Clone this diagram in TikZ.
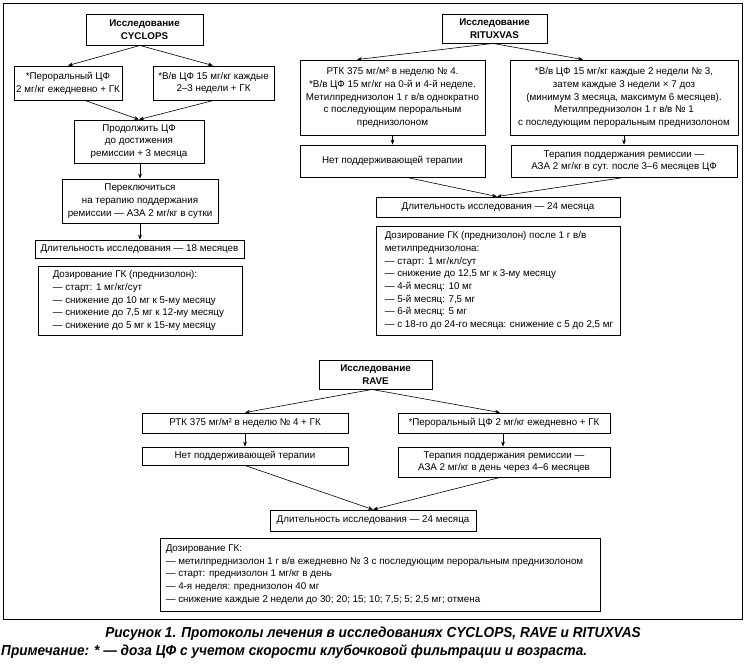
\documentclass[tikz,border=0pt]{standalone}
\usepackage{fontspec}
\setmainfont{Liberation Sans}
\newfontfamily\capfont[FakeStretch=0.94]{Liberation Sans}
\usetikzlibrary{arrows.meta,calc}
\tikzset{
  txt/.style={font=\fontsize{9.8}{12.7}\selectfont},
  box/.style={txt, draw, line width=0.9pt, inner sep=0pt, align=center},
  plain/.style={txt, inner sep=0pt, align=left},
  conn/.style={-{Stealth[length=5pt,width=3.8pt]}, line width=0.6pt},
  frame/.style={draw, line width=0.9pt, inner sep=0pt},
  captxt/.style={font=\capfont\bfseries\itshape\fontsize{14.5}{16}\selectfont, inner sep=0pt}
}
\begin{document}
\begin{tikzpicture}[x=1pt,y=-1pt]
\useasboundingbox (0,0) rectangle (746,664);
\node[frame, minimum width=739pt, minimum height=616pt] (frame) at (372.5,311) {};

% CYCLOPS
\node[box, minimum width=117pt, minimum height=31pt] (cT) at (144.5,29.5) {\bfseries Исследование\\\bfseries CYCLOPS};
\node[box, minimum width=108pt, minimum height=34pt] (cL) at (68,83) {*Пероральный ЦФ\\2 мг/кг ежедневно + ГК};
\node[box, minimum width=121pt, minimum height=34pt] (cR) at (213.5,83) {*В/в ЦФ 15 мг/кг каждые\\2–3 недели + ГК};
\node[box, minimum width=130pt, minimum height=43pt] (cC) at (139,141.5) {Продолжить ЦФ\\до достижения\\ремиссии + 3 месяца};
\node[box, minimum width=156pt, minimum height=44pt] (cS) at (140,201) {Переключиться\\на терапию поддержания\\ремиссии — АЗА 2 мг/кг в сутки};
\node[box, minimum width=209pt, minimum height=18pt] (cD) at (139.5,249) {Длительность исследования — 18 месяцев};
\node[box, minimum width=204pt, minimum height=69pt] (cG) at (140,300.5) {};
\node[plain, anchor=west] (cGt) at ($(cG.west)+(15,0)$) {Дозирование ГК (преднизолон):\\— старт: 1 мг/кг/сут\\— снижение до 10 мг к 5-му месяцу\\— снижение до 7,5 мг к 12-му месяцу\\— снижение до 5 мг к 15-му месяцу};

\draw[conn] ([xshift=-4.5pt]cT.south) -- (cL.north);
\draw[conn] ([xshift=-4.5pt]cT.south) -- ([xshift=-0.5pt]cR.north);
\draw[conn] ([xshift=17pt]cL.south) -- (cC.north);
\draw[conn] (cR.south) -- (cC.north);
\draw[conn] ([xshift=1pt]cC.south) -- (cS.north);
\draw[conn] (cS.south) -- ([xshift=0.5pt]cD.north);

% RITUXVAS
\node[box, minimum width=105pt, minimum height=29pt] (rT) at (494.5,28.5) {\bfseries Исследование\\\bfseries RITUXVAS};
\node[box, minimum width=185pt, minimum height=75pt] (rL) at (392.5,97.5) {РТК 375 мг/м² в неделю № 4.\\*В/в ЦФ 15 мг/кг на 0-й и 4-й неделе.\\Метилпреднизолон 1 г в/в однократно\\с последующим пероральным\\преднизолоном};
\node[box, minimum width=228pt, minimum height=75pt] (rR) at (624,97.5) {*В/в ЦФ 15 мг/кг каждые 2 недели № 3,\\затем каждые 3 недели × 7 доз\\(минимум 3 месяца, максимум 6 месяцев).\\Метилпреднизолон 1 г в/в № 1\\с последующим пероральным преднизолоном};
\node[box, minimum width=185pt, minimum height=32pt] (rL2) at (392.5,161) {Нет поддерживающей терапии};
\node[box, minimum width=226pt, minimum height=32pt] (rR2) at (624,161) {Терапия поддержания ремиссии —\\АЗА 2 мг/кг в сут. после 3–6 месяцев ЦФ};
\node[box, minimum width=244pt, minimum height=20pt] (rD) at (498,207) {Длительность исследования — 24 месяца};
\node[box, minimum width=244pt, minimum height=109pt] (rG) at (498,280.5) {};
\node[plain, anchor=west] (rGt) at ($(rG.west)+(9,0)$) {Дозирование ГК (преднизолон) после 1 г в/в\\метилпреднизолона:\\— старт: 1 мг/кл/сут\\— снижение до 12,5 мг к 3-му месяцу\\— 4-й месяц: 10 мг\\— 5-й месяц: 7,5 мг\\— 6-й месяц: 5 мг\\— с 18-го до 24-го месяца: снижение с 5 до 2,5 мг};

\draw[conn] ([xshift=-1.5pt]rT.south) -- ([xshift=-35.5pt]rL.north);
\draw[conn] ([xshift=-1.5pt]rT.south) -- ([xshift=-41pt]rR.north);
\draw[conn] (rL.south) -- (rL2.north);
\draw[conn] (rR.south) -- (rR2.north);
\draw[conn] ([xshift=14.5pt]rL2.south) -- ([xshift=-1pt]rD.north);
\draw[conn] (rR2.south) -- ([xshift=-1pt]rD.north);

% RAVE
\node[box, minimum width=113pt, minimum height=29pt] (vT) at (375.5,374.5) {\bfseries Исследование\\\bfseries RAVE};
\node[box, minimum width=206pt, minimum height=20pt] (vL) at (245,423) {РТК 375 мг/м² в неделю № 4 + ГК};
\node[box, minimum width=212pt, minimum height=20pt] (vR) at (504,423) {*Пероральный ЦФ 2 мг/кг ежедневно + ГК};
\node[box, minimum width=206pt, minimum height=18pt] (vL2) at (245,456) {Нет поддерживающей терапии};
\node[box, minimum width=212pt, minimum height=30pt] (vR2) at (504,462) {Терапия поддержания ремиссии —\\АЗА 2 мг/кг в день через 4–6 месяцев};
\node[box, minimum width=206pt, minimum height=21pt] (vD) at (373,520.5) {Длительность исследования — 24 месяца};
\node[box, minimum width=440pt, minimum height=73pt] (vG) at (380,574.5) {};
\node[plain, anchor=west] (vGt) at ($(vG.west)+(6,0)$) {Дозирование ГК:\\— метилпреднизолон 1 г в/в ежедневно № 3 с последующим пероральным преднизолоном\\— старт: преднизолон 1 мг/кг в день\\— 4-я неделя: преднизолон 40 мг\\— снижение каждые 2 недели до 30; 20; 15; 10; 7,5; 5; 2,5 мг; отмена};

\draw[conn] ([xshift=-3.5pt]vT.south) -- (vL.north);
\draw[conn] ([xshift=-3.5pt]vT.south) -- ([xshift=-4pt]vR.north);
\draw[conn] (vL.south) -- (vL2.north);
\draw[conn] ([xshift=-1pt]vR.south) -- ([xshift=-1pt]vR2.north);
\draw[conn] (vL2.south) -- (vD.north);
\draw[conn] ([xshift=-4pt]vR2.south) -- (vD.north);

% caption
\node[captxt] (cap1) at (373,634) {Рисунок 1. Протоколы лечения в исследованиях CYCLOPS, RAVE и RITUXVAS};
\node[captxt, anchor=west] (cap2) at (1,652) {Примечание: * — доза ЦФ с учетом скорости клубочковой фильтрации и возраста.};
\end{tikzpicture}
\end{document}
